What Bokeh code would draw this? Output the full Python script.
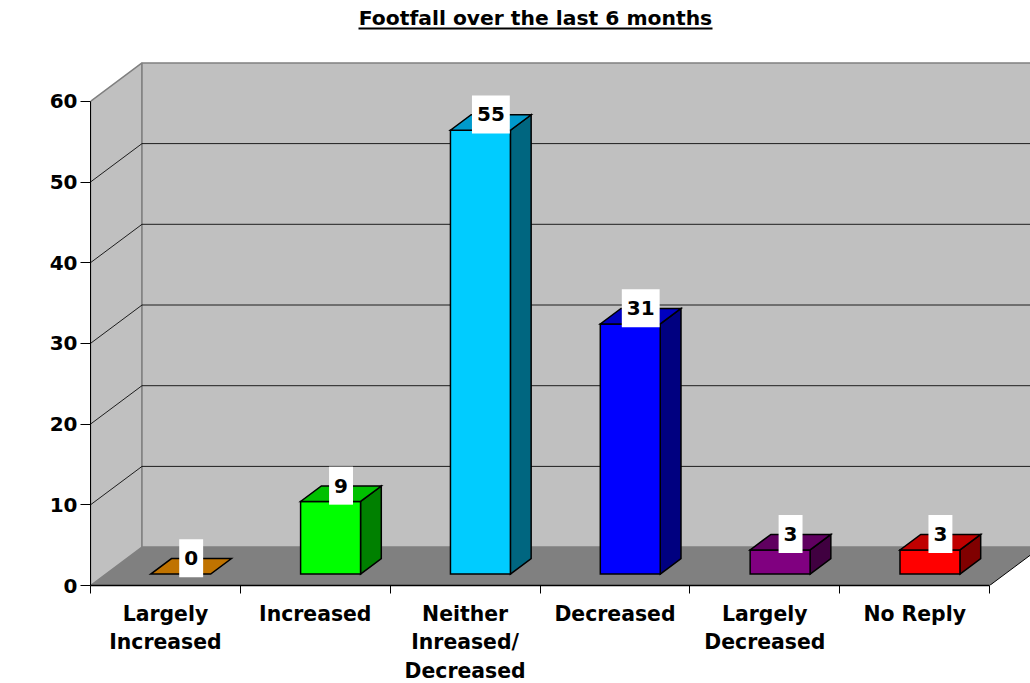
from bokeh.plotting import figure
from bokeh.models import Range1d, FixedTicker, Label
from bokeh.core.properties import value
from bokeh.embed import file_html
from bokeh.resources import INLINE

title_text = "Footfall over the last 6 months"
y_title = "%"
categories = ["Largely\nIncreased", "Increased", "Neither\nInreased/\nDecreased", "Decreased", "Largely\nDecreased", "No Reply"]
values = [0, 9, 55, 31, 3, 3]
front_colors = ["#FF9900", "#00FF00", "#00CCFF", "#0000FF", "#800080", "#FF0000"]
top_colors = ["#C07300", "#00C000", "#009ACC", "#0000C0", "#600060", "#C00000"]
side_colors = ["#804D00", "#008000", "#006680", "#000080", "#400040", "#800000"]
y_ticks = [0, 10, 20, 30, 40, 50, 60]

FONT = "DejaVu Sans"
PX_X, PX_Y = 149.85, 8.07      # pixels per category / per value unit
DX, DY = 51.5 / PX_X, 38.4 / PX_Y   # full depth of the 3D box in data units
D0, D1 = 0.297, 0.70          # depth range of bars
PAD = 0.30                    # gap on each side of a bar
n = len(categories)

LEFT, BOTTOM = 90, 585        # axis origin in the picture
FRAME_W, FRAME_H = 1030 - LEFT, BOTTOM
p = figure(width=1030, height=683, output_backend="svg", toolbar_location=None,
           frame_width=FRAME_W, frame_height=FRAME_H,
           min_border_left=LEFT, min_border_right=0, min_border_top=0, min_border_bottom=683 - BOTTOM,
           x_range=Range1d(0, FRAME_W / PX_X), y_range=Range1d(0, FRAME_H / PX_Y),
           x_axis_location="below", y_axis_location="left")
p.outline_line_color = None
p.grid.visible = False
p.background_fill_color = "white"
p.border_fill_color = "white"

def X(px):
    return (px - LEFT) / PX_X

def Y(py):
    return (BOTTOM - py) / PX_Y

# title with underline
p.add_layout(Label(x=X(535), y=Y(17), text=title_text, text_align="center", text_baseline="middle",
                   text_font=FONT, text_font_size="20.3px", text_font_style="bold", text_color="black"))
p.line([X(358), X(712)], [Y(28), Y(28)], line_color="black", line_width=2)
p.add_layout(Label(x=X(23), y=30, text=y_title, text_align="center", text_baseline="middle",
                   text_font=FONT, text_font_size="20.3px", text_font_style="bold", text_color="black"))

def P(x, y, d):
    return x + d * DX, y + d * DY

ymax = y_ticks[-1]
# walls and floor
p.patch([0, DX, DX, 0], [0, DY, ymax + DY, ymax], fill_color="#C0C0C0", line_color="#808080", line_width=1.5)
p.patch([DX, n + DX, n + DX, DX], [DY, DY, ymax + DY, ymax + DY], fill_color="#C0C0C0", line_color="#808080", line_width=1.5)
p.patch([0, n, n + DX, DX], [0, 0, DY, DY], fill_color="#808080", line_color=None)
p.line([n, n + DX], [0, DY], line_color="black", line_width=1)

# gridlines
for v in y_ticks[1:-1]:
    p.line([0, DX, n + DX], [v, v + DY, v + DY], line_color="black", line_width=1, line_alpha=0.85)

# bars
for i, v in enumerate(values):
    x0, x1 = i + PAD, i + 1 - PAD
    a = P(x0, 0, D0); b = P(x1, 0, D0); c = P(x1, v, D0); e = P(x0, v, D0)
    f = P(x1, 0, D1); g = P(x1, v, D1); h = P(x0, v, D1)
    kw = dict(line_color="black", line_width=1.5, line_join="miter")
    if v > 0:
        p.patch([b[0], f[0], g[0], c[0]], [b[1], f[1], g[1], c[1]], fill_color=side_colors[i], **kw)
        p.patch([a[0], b[0], c[0], e[0]], [a[1], b[1], c[1], e[1]], fill_color=front_colors[i], **kw)
    p.patch([e[0], c[0], g[0], h[0]], [e[1], c[1], g[1], h[1]], fill_color=top_colors[i], **kw)

# data labels
lx = [P(i + 0.5, v, 0.5)[0] for i, v in enumerate(values)]
ly = [P(i + 0.5, v, 0.5)[1] for i, v in enumerate(values)]
p.text(lx, ly, text=[str(v) for v in values], text_font=value(FONT), text_font_size="20px",
       text_font_style="bold", text_color="black", text_align="center", text_baseline="middle",
       y_offset=-8, background_fill_color="white", padding=(5, 12))

# axes
ya = p.yaxis[0]
ya.ticker = FixedTicker(ticks=y_ticks)
ya.bounds = (0, ymax)
ya.axis_line_color = "black"
ya.major_tick_out, ya.major_tick_in = 10, 0
ya.minor_tick_out = ya.minor_tick_in = 0
ya.major_label_standoff = 3
ya.major_label_text_font = FONT
ya.major_label_text_font_size = "20px"
ya.major_label_text_font_style = "bold"
ya.major_label_text_color = "black"

xa = p.xaxis[0]
centers = [i + 0.5 for i in range(n)]
xa.ticker = FixedTicker(ticks=centers, minor_ticks=list(range(n + 1)))
xa.major_label_overrides = {c: t for c, t in zip(centers, categories)}
xa.bounds = (0, n)
xa.axis_line_color = "black"
xa.axis_line_width = 1.5
xa.major_tick_out = xa.major_tick_in = 0
xa.minor_tick_out, xa.minor_tick_in = 8, 0
xa.minor_tick_line_color = "black"
xa.major_label_standoff = 8
xa.major_label_text_font = FONT
xa.major_label_text_font_size = "20.4px"
xa.major_label_text_font_style = "bold"
xa.major_label_text_color = "black"
xa.major_label_text_line_height = 1.2

open("out.html", "w").write(file_html(p, INLINE))
